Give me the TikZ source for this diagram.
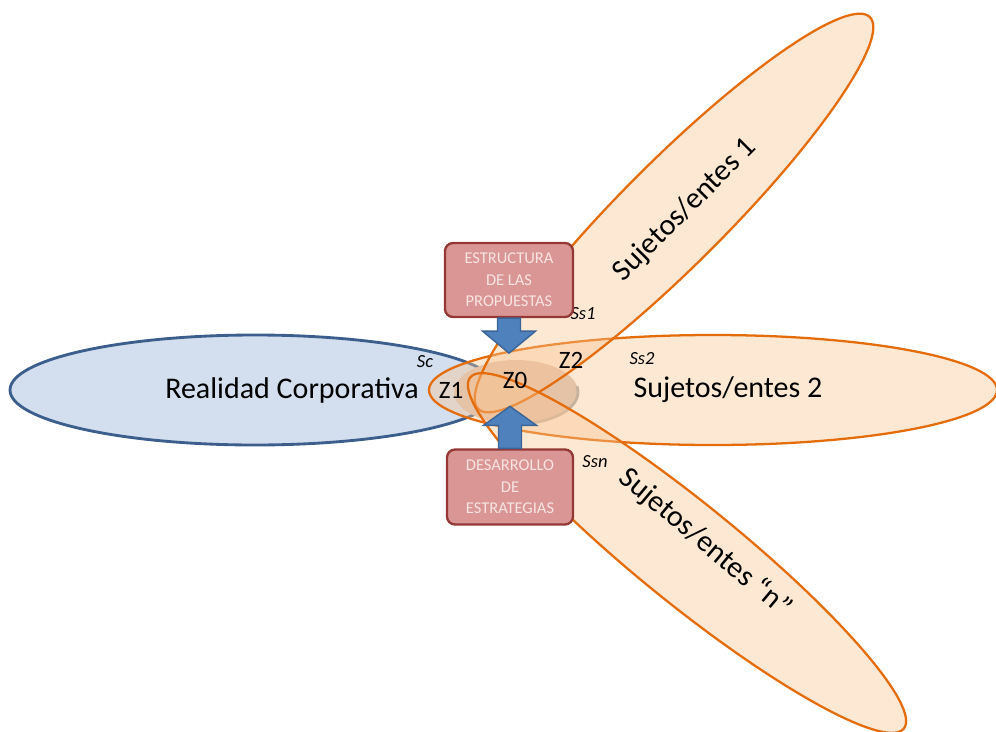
\documentclass[tikz,border=0pt]{standalone}
\usepackage{fontspec}
\setmainfont{Carlito}
\usetikzlibrary{calc}

\definecolor{corpfill}{HTML}{D3DFEE}
\definecolor{corpline}{HTML}{3B5E8C}
\definecolor{subjfill}{HTML}{FAC592}
\definecolor{subjline}{HTML}{E46C0A}
\definecolor{zonefill}{HTML}{D6C2B4}
\definecolor{zoneline}{HTML}{A6A6A6}
\definecolor{boxfill}{HTML}{D99694}
\definecolor{boxline}{HTML}{953735}
\definecolor{boxtext}{HTML}{F7E4E3}
\definecolor{arrfill}{HTML}{4F81BD}
\definecolor{arrline}{HTML}{3A6598}

\begin{document}
\begin{tikzpicture}[x=1pt, y=-1pt,
  corp/.style={line width=1mm, draw=corpline, fill=corpfill},
  subj/.style={line width=0.8mm, draw=subjline, fill=subjfill, fill opacity=0.4},
  zone/.style={line width=1mm, draw=zoneline},
  blockarr/.style={line width=0.5mm, draw=arrline, fill=arrfill},
  propbox/.style={line width=0.8mm, draw=boxline, fill=boxfill, text=boxtext,
    rounded corners=8pt, align=center, minimum width=128pt, minimum height=74pt,
    font=\fontsize{16.5}{21.5}\selectfont},
  biglabel/.style={font=\fontsize{30}{34}\selectfont},
  zlabel/.style={font=\fontsize{25}{28}\selectfont},
  slabel/.style={font=\fontsize{18.5}{20}\selectfont\itshape}]
  \useasboundingbox (0,0) rectangle (996,731);

  % Corporate reality
  \draw[corp] (255,390) ellipse [x radius=245pt, y radius=55pt];

  % Common zone
  \fill[zonefill] (516,392) ellipse [x radius=62pt, y radius=32pt];
  \begin{scope}
    \clip (520,386) rectangle (600,440);
    \draw[zone] (516,392) ellipse [x radius=62pt, y radius=32pt];
  \end{scope}

  % Subjects
  \draw[subj] (713,390) ellipse [x radius=284pt, y radius=55pt];
  \draw[subj, shift={(674,213)}, rotate=45] (0,0) ellipse [x radius=277pt, y radius=52pt];
  \draw[subj, shift={(687,553)}, rotate=-39] (0,0) ellipse [x radius=279pt, y radius=50pt];

  % Main labels
  \node[biglabel] (corp) at (292,390) {Realidad Corporativa};
  \node[biglabel, rotate=45] (subj1) at (685,210) {Sujetos/entes 1};
  \node[biglabel] (subj2) at (728,390) {Sujetos/entes 2};
  \node[biglabel, rotate=-40] (subjn) at (705,543) {Sujetos/entes “n”};

  % Zones
  \node[zlabel] (z1) at (451,390) {Z1};
  \node[zlabel] (z0) at (515,380) {Z0};
  \node[zlabel] (z2) at (571,360) {Z2};

  % Small tags
  \node[slabel] (sc) at (425,362) {Sc};
  \node[slabel] (ss1) at (583,314) {Ss1};
  \node[slabel] (ss2) at (642,359) {Ss2};
  \node[slabel] (ssn) at (595,462) {Ssn};

  % Boxes
  \node[propbox] (estr) at (509,280) {ESTRUCTURA\\DE LAS\\PROPUESTAS};
  \node[propbox, minimum width=126pt, minimum height=75pt] (desa) at (510,487)
    {DESARROLLO\\DE\\ESTRATEGIAS};

  % Block arrows
  \draw[blockarr] ($(estr.south)+(-11.5,0)$) -- ++(0,13) -- ++(-15,0)
    -- ++(26.5,22) -- ++(26.5,-22) -- ++(-15,0) -- ++(0,-13) -- cycle;
  \draw[blockarr] ($(desa.north)+(-11.5,0)$) -- ++(0,-23) -- ++(-15,0)
    -- ++(26.5,-19) -- ++(26.5,19) -- ++(-15,0) -- ++(0,23) -- cycle;
\end{tikzpicture}
\end{document}
